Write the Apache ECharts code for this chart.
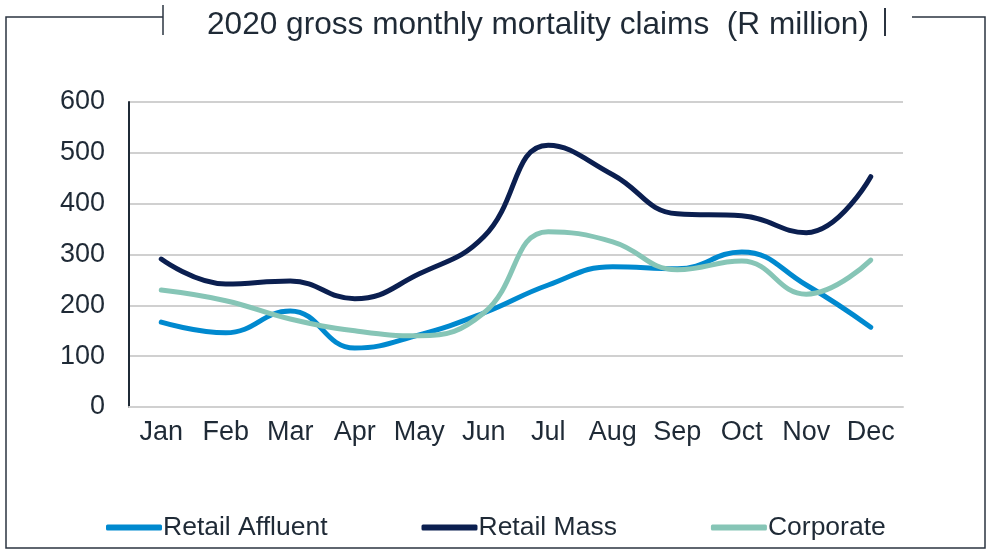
<!DOCTYPE html>
<html lang="en">
<head>
	<meta charset="UTF-8">
	<title>2020 gross monthly mortality claims</title>
	<script src="https://cdn.jsdelivr.net/npm/echarts@6/dist/echarts.min.js"></script>
</head>
<body style="margin:0;">
	<div id="main" style="width: 991px;height:555px;"></div>
<script type="text/javascript">
	var months = ['Jan', 'Feb', 'Mar', 'Apr', 'May', 'Jun', 'Jul', 'Aug', 'Sep', 'Oct', 'Nov', 'Dec'];
	var retailAffluent = [167, 146, 189, 116, 142, 185, 240, 276, 272, 305, 240, 157];
	var retailMass = [291, 242, 248, 213, 262, 335, 515, 457, 380, 376, 343, 453];
	var corporate = [230, 209, 173, 150, 140, 185, 345, 325, 270, 287, 222, 289];

	var txt = '#1f2a36';
	var myChart = echarts.init(document.getElementById('main'));

	// 外框和标题两侧的竖线
	var frame = '#2b3440';
	myChart.setOption({
		animation: false,
		title: {
			text: '2020 gross monthly mortality claims  (R million)',
			left: 533,
			textAlign: 'center',
			top: 4,
			textStyle: { fontFamily: 'Liberation Sans', fontSize: 31.6, fontWeight: 'normal', color: txt }
		},
		graphic: [
			{ type: 'polyline', shape: { points: [[163, 17], [6, 17], [6, 548], [985, 548], [985, 17], [912, 17]] },
			  style: { stroke: frame, lineWidth: 1.5, fill: null } },
			{ type: 'line', shape: { x1: 163, y1: 5, x2: 163, y2: 35 }, style: { stroke: frame, lineWidth: 1.5 } },
			{ type: 'line', shape: { x1: 885, y1: 8, x2: 885, y2: 36 }, style: { stroke: frame, lineWidth: 2 } }
		],
		legend: {
			top: 509,
			left: 101,
			itemWidth: 56,
			itemHeight: 6,
			itemGap: 94,
			icon: 'roundRect',
			textStyle: { fontFamily: 'Liberation Sans', fontSize: 26.5, color: txt, padding: [0, 0, 0, -4] },
			data: ['Retail Affluent', 'Retail Mass', 'Corporate']
		},
		grid: { left: 129, right: 88, top: 102, bottom: 148, containLabel: false },
		xAxis: {
			type: 'category',
			data: months,
			boundaryGap: true,
			axisLine: { lineStyle: { color: '#d0d0d0', width: 2 } },
			axisTick: { show: false },
			axisLabel: { fontFamily: 'Liberation Sans', fontSize: 27, color: txt, margin: 12, interval: 0 }
		},
		yAxis: {
			type: 'value',
			min: 0,
			max: 600,
			interval: 100,
			axisLine: { show: true, lineStyle: { color: txt, width: 2 } },
			axisTick: { show: false },
			axisLabel: { fontFamily: 'Liberation Sans', fontSize: 27, color: txt, margin: 24 },
			splitLine: { lineStyle: { color: '#d0d0d0', width: 2 } }
		},
		series: [
			{ name: 'Retail Affluent', type: 'line', data: retailAffluent, smooth: 0.45, showSymbol: false,
			  itemStyle: { color: '#0089cf' }, lineStyle: { width: 5, color: '#0089cf', cap: 'round' } },
			{ name: 'Retail Mass', type: 'line', data: retailMass, smooth: 0.45, showSymbol: false,
			  itemStyle: { color: '#0b1f50' }, lineStyle: { width: 5, color: '#0b1f50', cap: 'round' } },
			{ name: 'Corporate', type: 'line', data: corporate, smooth: 0.45, showSymbol: false,
			  itemStyle: { color: '#86c5b6' }, lineStyle: { width: 5, color: '#86c5b6', cap: 'round' } }
		]
	});
</script>
</body>
</html>
